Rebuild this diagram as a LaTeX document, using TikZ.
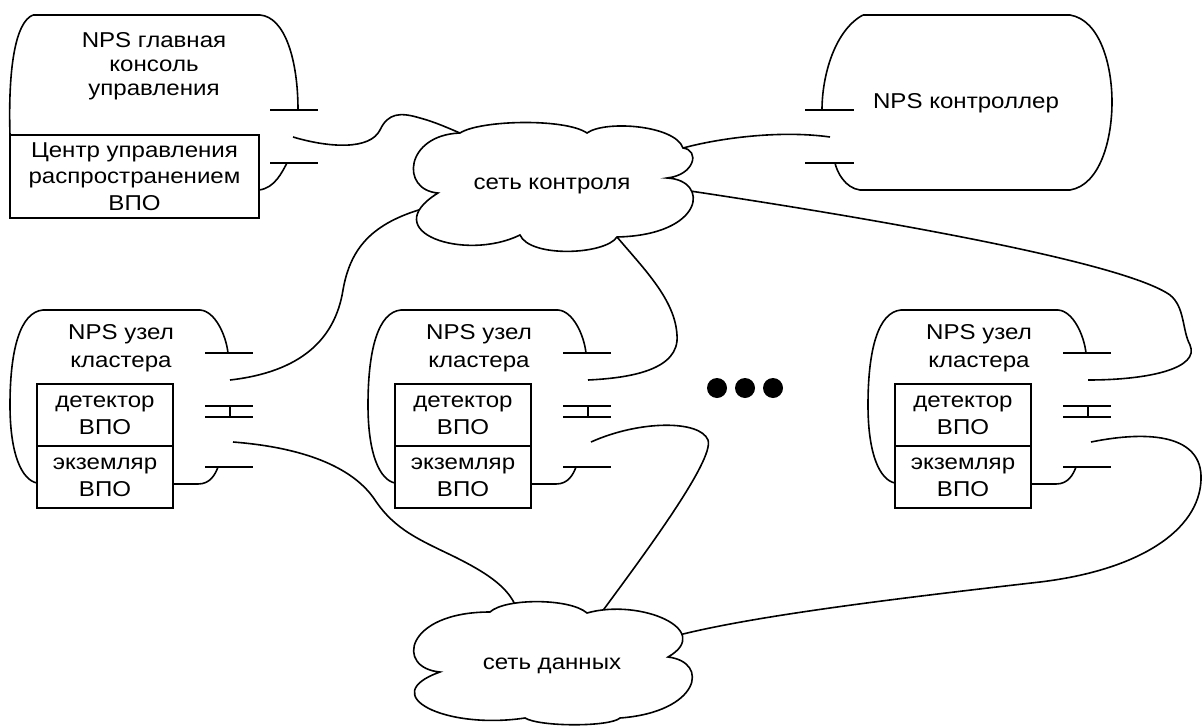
\documentclass[tikz,border=0pt]{standalone}
\usepackage{fontspec}
\setmainfont{Liberation Sans}[FakeStretch=1.12]
\newcommand\clusterunit[2]{%
\begin{scope}[shift={(#2,0)}]
  \draw (43,310) -- (200,310) .. controls (215,311) and (226,335) .. (228,353);
  \draw (43,310) .. controls (20,312) and (10,350) .. (10,405) .. controls (10,455) and (22,480) .. (37,483);
  \draw (205,353) -- (253,353);
  \draw (205,406) -- (253,406);
  \draw (205,417) -- (253,417);
  \draw (230,406) -- (230,417);
  \draw (205,467) -- (253,467);
  \node[unitbox, minimum width=136pt, minimum height=62pt] (#1det) at (105,415) {детектор\\ВПО};
  \node[unitbox, minimum width=136pt, minimum height=62pt] (#1exm) at (105,477) {экземляр\\ВПО};
  \node[lbl27] (#1head) at (121,348) {NPS узел\\кластера};
  \draw (173,484) -- (198,484) .. controls (210,484) and (215,475) .. (218,467);
  \coordinate (#1up) at (230,380);
  \coordinate (#1dn) at (233,442);
\end{scope}}
\begin{document}
\begin{tikzpicture}[x=1pt,y=-1pt,line width=1.6pt,
  lbl/.style={font=\fontsize{21.5}{24}\selectfont, align=center, inner sep=0pt},
  lbl27/.style={font=\fontsize{21.5}{27.5}\selectfont, align=center, inner sep=0pt},
  unitbox/.style={draw, rectangle, inner sep=0pt, align=center, font=\fontsize{21.5}{27}\selectfont},
  cloudtext/.style={inner sep=0pt, font=\fontsize{21.5}{24}\selectfont},
  bigdot/.style={fill, circle, minimum size=20pt, inner sep=0pt}]
\useasboundingbox (0,0) rectangle (1203,726);

% console
\draw (33,15) -- (260,15) .. controls (285,17) and (298,60) .. (298,110);
\draw (33,15) .. controls (15,22) and (8,70) .. (10,135);
\draw (270,110) -- (318,110);
\draw (270,163) -- (318,163);
\node[lbl] (conhead) at (154,66) {NPS главная\\консоль\\управления};
\node[unitbox, minimum width=249pt, minimum height=83pt, font=\fontsize{21.5}{26.5}\selectfont] (cbox) at (134.5,176.5) {Центр управления\\распространением\\ВПО};
\draw (259,190) .. controls (275,188) and (282,172) .. (287,163);
\coordinate (conport) at (293,137);

% controller
\draw (863,15) -- (1070,15) .. controls (1100,20) and (1112,65) .. (1112,102) .. controls (1112,140) and (1100,185) .. (1070,190) -- (860,190) .. controls (845,188) and (837,172) .. (835,163);
\draw (863,15) .. controls (835,30) and (822,75) .. (822,110);
\draw (805,110) -- (854,110);
\draw (805,163) -- (854,163);
\node[lbl] (ctrl) at (966,103) {NPS контроллер};
\coordinate (ctrlport) at (830,137);

% control network cloud
\node[cloudtext] (cc) at (552,186) {сеть контроля};
\draw (438,193) .. controls (400,190) and (405,135) .. (460,133) coordinate (ccA)
  .. controls (480,120) and (565,118) .. (587,133)
  .. controls (605,120) and (675,125) .. (683,148) coordinate (ccC)
  .. controls (700,150) and (695,175) .. (667,178)
  .. controls (710,180) and (705,235) .. coordinate[pos=0.3] (ccDE) (617,237) coordinate (ccE)
  .. controls (605,255) and (530,258) .. (520,235)
  .. controls (465,262) and (375,232) .. coordinate[pos=0.85] (ccFH) (438,193) -- cycle;

% data network cloud
\node[cloudtext] (dc) at (552,666) {сеть данных};
\draw (440,672) .. controls (395,668) and (405,612) .. (490,612)
  .. controls (505,598) and (570,598) .. coordinate[pos=0.3] (dcT) (587,613)
  .. controls (640,598) and (715,630) .. coordinate[pos=0.1] (dcR1) coordinate[pos=0.72] (dcR2) (668,657)
  .. controls (710,662) and (700,712) .. (620,718)
  .. controls (610,727) and (540,727) .. (525,718)
  .. controls (445,730) and (375,695) .. (440,672) -- cycle;

% cluster nodes
\clusterunit{ka}{0}
\clusterunit{kb}{358}
\clusterunit{kc}{858}

% dots
\node[bigdot] (d1) at (717,388) {};
\node[bigdot] (d2) at (745,388) {};
\node[bigdot] (d3) at (773,388) {};

% control network cables
\draw (conport) .. controls (330,148) and (370,150) .. (380,130) .. controls (388,113) and (400,112) .. (420,118) .. controls (435,122) and (448,128) .. (ccA);
\draw (ccC) .. controls (720,138) and (780,130) .. (ctrlport);
\draw (ccDE) .. controls (850,215) and (1120,260) .. (1170,295) .. controls (1185,307) and (1182,330) .. (1190,345) .. controls (1200,368) and (1150,380) .. (kcup);
\draw (ccFH) .. controls (370,225) and (350,250) .. (343,290) .. controls (335,340) and (300,372) .. (kaup);
\draw (ccE) .. controls (645,270) and (675,300) .. (677,335) .. controls (680,370) and (630,378) .. (kbup);

% data network cables
\draw (kadn) .. controls (310,448) and (355,470) .. (375,500) .. controls (395,530) and (420,540) .. (455,557) .. controls (485,572) and (505,585) .. (dcT);
\draw (kbdn) .. controls (640,420) and (700,420) .. (708,440) .. controls (715,460) and (640,560) .. (dcR1);
\draw (kcdn) .. controls (1150,430) and (1203,435) .. (1201,480) .. controls (1199,530) and (1140,570) .. (1040,582) .. controls (900,598) and (760,615) .. (dcR2);
\end{tikzpicture}
\end{document}
